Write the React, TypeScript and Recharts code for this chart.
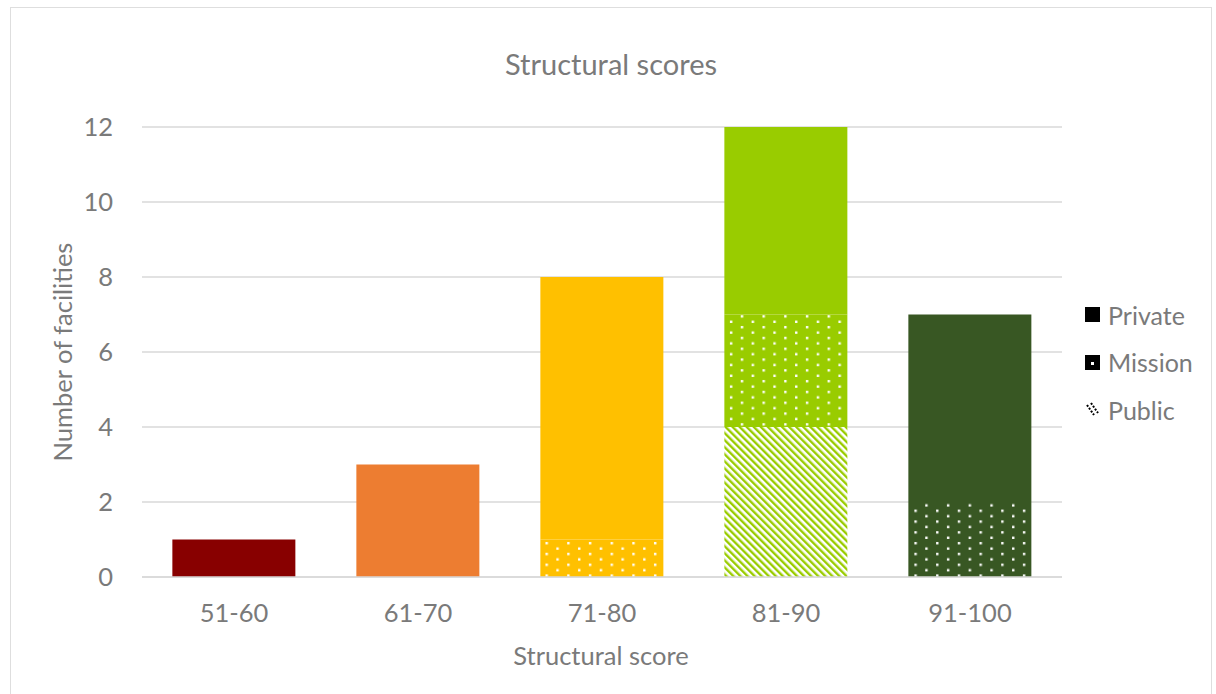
import { BarChart, Bar, Cell, XAxis, YAxis, CartesianGrid } from 'recharts';

const categories = ['51-60', '61-70', '71-80', '81-90', '91-100'];
const publicVals = [0, 0, 0, 4, 0];
const missionVals = [0, 0, 1, 3, 2];
const privateVals = [1, 3, 7, 5, 5];
const yTicks = [0, 2, 4, 6, 8, 10, 12];
const barColors = ['#880000', '#ED7D31', '#FFC000', '#99CC00', '#385723'];
const legendItems = ['Private', 'Mission', 'Public'];

const data = categories.map((name, i) => ({
  name,
  Public: publicVals[i],
  Mission: missionVals[i],
  Private: privateVals[i],
}));

const FONT = 'Lato, "Open Sans", sans-serif';
const TEXT = '#7a7a7a';

function LegendIcon({ kind }: { kind: string }) {
  if (kind === 'Private') {
    return <svg width={15} height={15}><rect width={15} height={15} fill="#000" /></svg>;
  }
  if (kind === 'Mission') {
    return (
      <svg width={15} height={15}>
        <rect width={15} height={15} fill="#000" />
        <rect x={6} y={7} width={3} height={3} fill="#fff" />
      </svg>
    );
  }
  return (
    <svg width={15} height={15}>
      <line x1={2} y1={3} x2={9} y2={13} stroke="#000" strokeWidth={2} strokeDasharray="2 1.5" />
      <line x1={6} y1={1} x2={13} y2={11} stroke="#000" strokeWidth={2} strokeDasharray="2 1.5" />
    </svg>
  );
}

function LegendBox() {
  return (
    <div style={{ position: 'absolute', left: 1085, top: 291, fontFamily: FONT }}>
      {legendItems.map((k) => (
        <div key={k} style={{ display: 'flex', alignItems: 'center', height: 47.5 }}>
          <LegendIcon kind={k} />
          <span style={{ marginLeft: 8, fontSize: 25, color: TEXT }}>{k}</span>
        </div>
      ))}
    </div>
  );
}

export default function App() {
  return (
    <div style={{ position: 'absolute', left: 0, top: 0, width: 1216, height: 694, background: '#fff', overflow: 'hidden' }}>
      <div
        style={{
          position: 'absolute',
          left: 10,
          top: 7,
          width: 1202,
          height: 700,
          border: '1.5px solid #dedede',
          boxSizing: 'border-box',
        }}
      />
      <div style={{ position: 'absolute', left: 0, top: 0 }}>
        <BarChart
          width={1216}
          height={694}
          data={data}
          margin={{ top: 127, right: 154, bottom: 87, left: 0 }}
          barCategoryGap="16.5%"
        >
          <defs>
            {/* staggered white dots, like Excel's "dotted grid" fill */}
            {barColors.map((c, i) => (
              <pattern key={`d${i}`} id={`dots-${i}`} width={21.7} height={10.8} patternUnits="userSpaceOnUse">
                <rect width={21.7} height={10.8} fill={c} />
                <rect x={3} y={2} width={2.4} height={2.4} fill="#fff" />
                <rect x={13.85} y={7.4} width={2.4} height={2.4} fill="#fff" />
              </pattern>
            ))}
            {barColors.map((c, i) => (
              <pattern
                key={`h${i}`}
                id={`hatch-${i}`}
                width={5}
                height={10}
                patternUnits="userSpaceOnUse"
                patternTransform="rotate(-45)"
              >
                <rect width={5} height={10} fill="#fff" />
                <rect width={2.4} height={10} fill={c} />
              </pattern>
            ))}
          </defs>
          <CartesianGrid vertical={false} stroke="#d9d9d9" strokeWidth={1.5} />
          <XAxis
            dataKey="name"
            height={30}
            axisLine={{ stroke: '#d9d9d9', strokeWidth: 1.5 }}
            tickLine={false}
            tickSize={0}
            tickMargin={27}
            tick={{ fill: TEXT, fontSize: 25.5, fontFamily: FONT }}
          />
          <YAxis
            width={142}
            domain={[0, 12]}
            ticks={yTicks}
            axisLine={false}
            tickLine={false}
            tickSize={0}
            tickMargin={29}
            tick={{ fill: TEXT, fontSize: 25.5, fontFamily: FONT }}
          />
          <Bar dataKey="Public" stackId="a" isAnimationActive={false}>
            {data.map((_, i) => (
              <Cell key={i} fill={`url(#hatch-${i})`} />
            ))}
          </Bar>
          <Bar dataKey="Mission" stackId="a" isAnimationActive={false}>
            {data.map((_, i) => (
              <Cell key={i} fill={`url(#dots-${i})`} />
            ))}
          </Bar>
          <Bar dataKey="Private" stackId="a" isAnimationActive={false}>
            {data.map((_, i) => (
              <Cell key={i} fill={barColors[i]} />
            ))}
          </Bar>
        </BarChart>
      </div>
      <LegendBox />
      <svg
        width={1216}
        height={694}
        style={{ position: 'absolute', left: 0, top: 0, pointerEvents: 'none', fontFamily: FONT }}
      >
        <text x={611} y={75} textAnchor="middle" fontSize={29} fill={TEXT}>
          Structural scores
        </text>
        <text x={601} y={665} textAnchor="middle" fontSize={25.5} fill={TEXT}>
          Structural score
        </text>
        <text x={72} y={352} textAnchor="middle" fontSize={25.5} fill={TEXT} transform="rotate(-90 72 352)">
          Number of facilities
        </text>
      </svg>
    </div>
  );
}
